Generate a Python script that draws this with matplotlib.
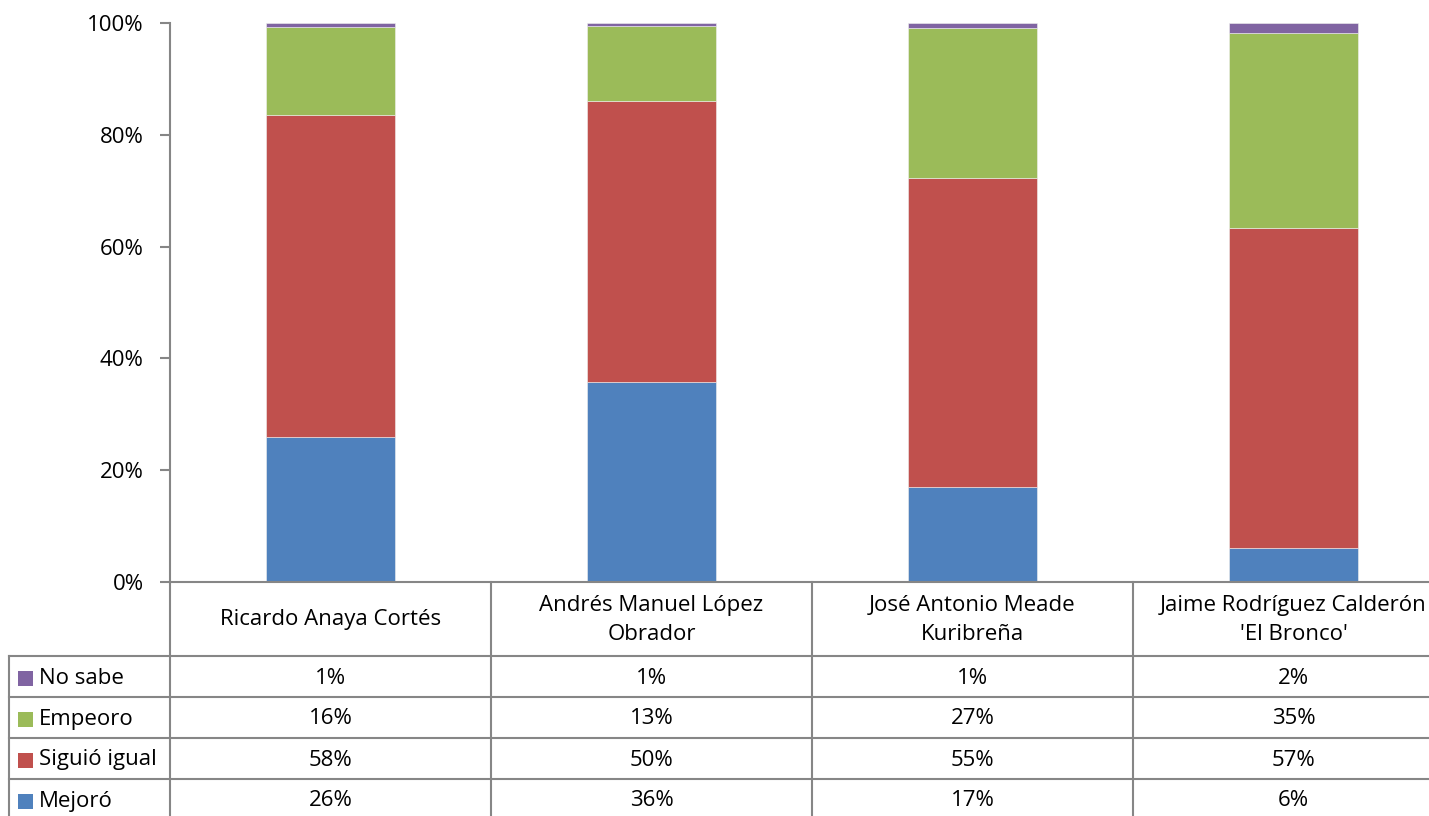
import matplotlib
matplotlib.use("Agg")
import matplotlib.pyplot as plt
from matplotlib.patches import Rectangle
import numpy as np

plt.rcParams["font.family"] = ["Open Sans", "DejaVu Sans"]

# Data (percent of respondents)
candidates = ["Ricardo Anaya Cortés",
              "Andrés Manuel López\nObrador",
              "José Antonio Meade\nKuribreña",
              "Jaime Rodríguez Calderón\n'El Bronco'"]
mejoro = [25.9, 35.8, 17.0, 6.1]
siguio_igual = [57.6, 50.2, 55.3, 57.2]
empeoro = [15.8, 13.4, 26.8, 34.9]
no_sabe = [0.7, 0.6, 0.9, 1.8]

series_names = ["Mejoró", "Siguió igual", "Empeoro", "No sabe"]
series_values = [mejoro, siguio_igual, empeoro, no_sabe]
series_colors = ["#4F81BD", "#C0504D", "#9BBB59", "#8064A2"]

GRID = "#868686"
FS = 16

W, H = 1429, 816
fig = plt.figure(figsize=(W / 100, H / 100), dpi=100)
# plot area in pixels: x 170 -> 1454 (runs past the right edge), y 23 -> 582
ax = fig.add_axes([170 / W, 1 - 582 / H, 1284 / W, 559 / H])

x = np.arange(len(candidates))
bottom = np.zeros(len(candidates))
for vals, color in zip(series_values, series_colors):
    ax.bar(x, vals, width=0.4, bottom=bottom, color=color,
           edgecolor="#f0f0f0", linewidth=0.4)
    bottom += np.array(vals)

ax.set_xlim(-0.5, 3.5)
ax.set_ylim(0, 100)
ax.set_yticks([0, 20, 40, 60, 80, 100])
ax.set_yticklabels(["0%", "20%", "40%", "60%", "80%", "100%"], fontsize=FS)
ax.set_xticks([])
for side in ["top", "right"]:
    ax.spines[side].set_visible(False)
for side in ["left", "bottom"]:
    ax.spines[side].set_color(GRID)
    ax.spines[side].set_linewidth(1.5)
ax.tick_params(axis="y", length=7, width=1.5, color=GRID, pad=12)

# Data table below the plot
trans = ax.get_xaxis_transform()


def py(pix):
    """pixel row -> axes fraction"""
    return (582 - pix) / 559.0


row_edges = [656, 697, 738, 779, 820]
bottom_y = py(830)
left_x = -0.5 - 161 / 321.0

line_kw = dict(color=GRID, linewidth=1.5, clip_on=False, transform=trans)
for xb in [-0.5, 0.5, 1.5, 2.5, 3.5]:
    ax.plot([xb, xb], [0, bottom_y], **line_kw)
ax.plot([left_x, left_x], [py(656), bottom_y], **line_kw)
for yb in row_edges[:-1]:
    ax.plot([left_x, 3.5], [py(yb), py(yb)], **line_kw)

for i, name in enumerate(candidates):
    ax.text(i, py(620), name, transform=trans, ha="center", va="center",
            fontsize=FS, linespacing=1.45)

table_rows = list(zip(series_names, series_values, series_colors))[::-1]
for r, (name, vals, color) in enumerate(table_rows):
    yc = py((row_edges[r] + row_edges[r + 1]) / 2.0 + 1.5)
    sq_x = -0.5 - 152 / 321.0
    ax.add_patch(Rectangle((sq_x, yc - 7.5 / 559), 15 / 321.0, 15 / 559.0,
                           facecolor=color, edgecolor="none",
                           transform=trans, clip_on=False))
    ax.text(-0.5 - 131 / 321.0, yc, name, transform=trans, ha="left",
            va="center", fontsize=FS)
    for i, v in enumerate(vals):
        ax.text(i, yc, "{:.0f}%".format(v), transform=trans, ha="center",
                va="center", fontsize=FS)

fig.savefig("out.png", dpi=100)
